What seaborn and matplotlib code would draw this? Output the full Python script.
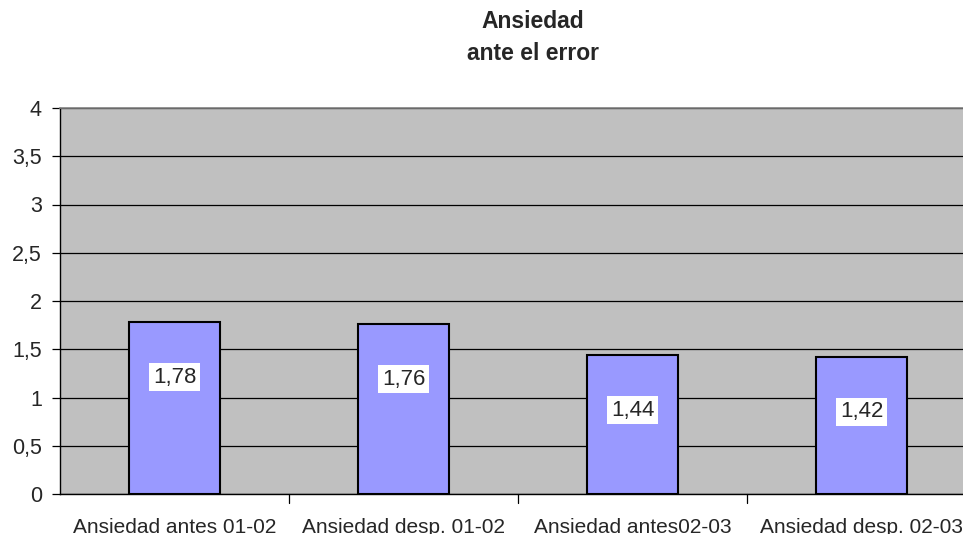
import seaborn as sns
import matplotlib.pyplot as plt
import pandas as pd

categories = ["Ansiedad antes 01-02", "Ansiedad desp. 01-02",
              "Ansiedad antes02-03", "Ansiedad desp. 02-03"]
values = [1.78, 1.76, 1.44, 1.42]
value_labels = ["1,78", "1,76", "1,44", "1,42"]
y_ticks = [0, 0.5, 1, 1.5, 2, 2.5, 3, 3.5, 4]
y_tick_labels = ["0", "0,5", "1", "1,5", "2", "2,5", "3", "3,5", "4"]

df = pd.DataFrame({"categoria": categories, "valor": values})

sns.set_style("white")
plt.rcParams['font.family'] = ['Liberation Sans', 'DejaVu Sans']

fig = plt.figure(figsize=(9.63, 5.34), dpi=100)
ax = fig.add_axes([60 / 963, 40 / 534, 916 / 963, 386 / 534])
ax.set_facecolor("#C0C0C0")

sns.barplot(data=df, x="categoria", y="valor", color="#9999FF", saturation=1,
            width=0.4, edgecolor="black", linewidth=1.5, ax=ax, zorder=3)

ax.set_ylim(0, 4)
ax.set_xlim(-0.5, 3.5)
ax.set_yticks(y_ticks)
ax.set_yticklabels(y_tick_labels, fontsize=15.5)
ax.yaxis.grid(True, color="black", linewidth=0.9, zorder=0)
ax.set_axisbelow(True)

# category ticks sit between the bars
ax.set_xticks([0, 1, 2, 3])
ax.set_xticklabels(categories, fontsize=15)
ax.tick_params(axis="x", length=0, pad=17)
for b in [0.5, 1.5, 2.5]:
    ax.plot([b, b], [0, -0.09], color="black", lw=0.9, clip_on=False, transform=ax.transData)
ax.tick_params(axis="y", length=6, width=0.9, color="black", left=True, pad=7)
ax.set_xlabel("")
ax.set_ylabel("")

for side in ["left", "bottom"]:
    ax.spines[side].set_color("black")
    ax.spines[side].set_linewidth(1.0)
ax.spines["top"].set_color("#808080")
ax.spines["top"].set_linewidth(1.2)
ax.spines["right"].set_visible(False)

for i, (v, lab) in enumerate(zip(values, value_labels)):
    ax.text(i, v - 0.57, lab, ha="center", va="center", fontsize=16, zorder=5,
            bbox=dict(facecolor="white", edgecolor="none", pad=2.5))

fig.text(533 / 963, 1 - 22 / 534, "Ansiedad", ha="center", va="center",
         fontsize=16.5, fontweight="bold")
fig.text(533 / 963, 1 - 53 / 534, "ante el error", ha="center", va="center",
         fontsize=16.5, fontweight="bold")

fig.savefig("out.png", dpi=100)
